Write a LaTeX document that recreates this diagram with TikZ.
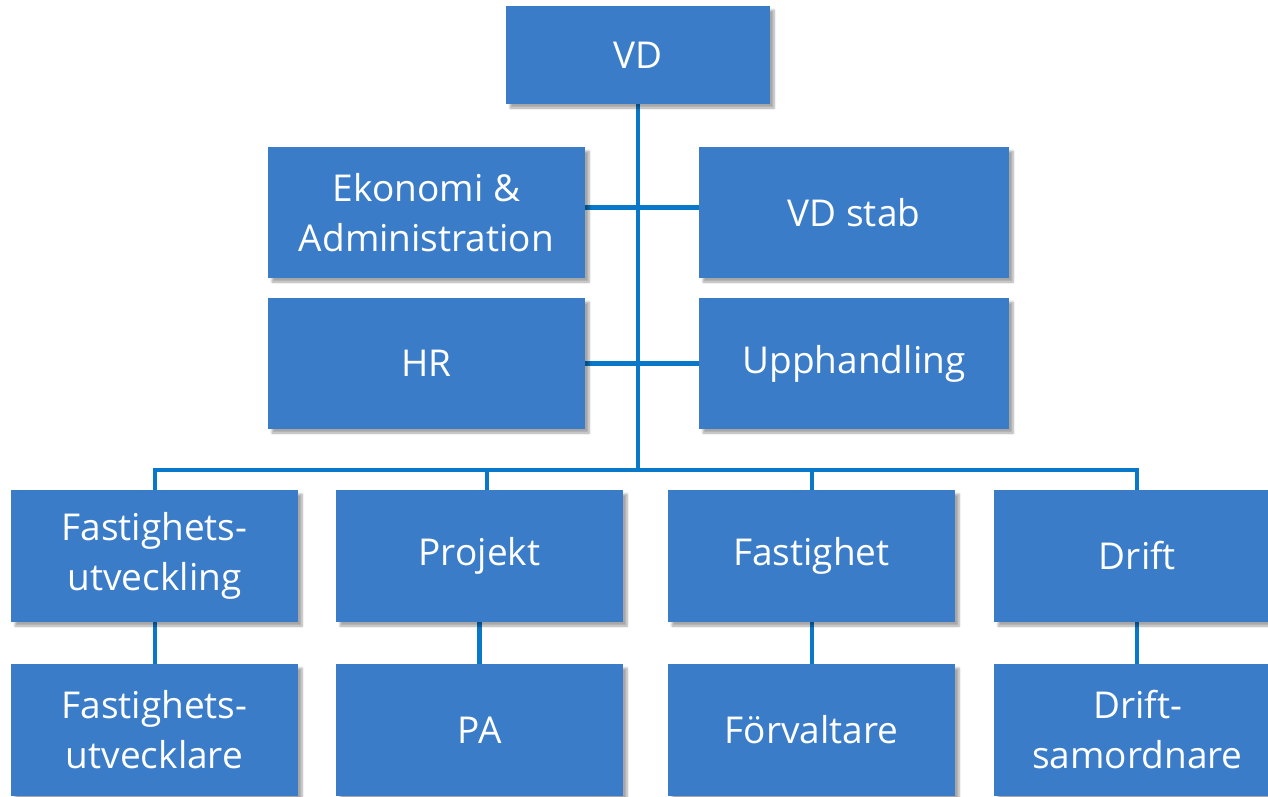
\documentclass[tikz,border=0pt]{standalone}
\usepackage{fontspec}
\setmainfont{Open Sans}
\usetikzlibrary{shadows.blur,backgrounds}
\definecolor{boxblue}{HTML}{3B7CC9}
\definecolor{lineblue}{HTML}{0A78C8}
\tikzset{
  box/.style={fill=boxblue, text=white, align=center, inner sep=0pt,
    font=\fontsize{37}{50}\selectfont,
    blur shadow={shadow xshift=4pt, shadow yshift=-4pt, shadow blur steps=6, shadow opacity=35}},
  conn/.style={draw=lineblue, line width=4.5pt}
}
\begin{document}
\begin{tikzpicture}[x=1pt,y=-1pt]
\useasboundingbox[clip] (0,0) rectangle (1268,796);
\node[box, minimum width=264pt, minimum height=98pt] (vd) at (638,55) {VD};
\node[box, minimum width=317pt, minimum height=131pt] (eko) at (426.5,212.5) {Ekonomi \&\\Administration};
\node[box, minimum width=310pt, minimum height=131pt] (stab) at (854,212.5) {VD stab};
\node[box, minimum width=317pt, minimum height=131pt] (hr) at (426.5,363.5) {HR};
\node[box, minimum width=310pt, minimum height=131pt] (upp) at (854,363.5) {Upphandling};
\node[box, minimum width=287pt, minimum height=132pt] (fu) at (154.5,556) {Fastighets-\\utveckling};
\node[box, minimum width=287pt, minimum height=132pt] (proj) at (479.5,556) {Projekt};
\node[box, minimum width=287pt, minimum height=132pt] (fast) at (811.5,556) {Fastighet};
\node[box, minimum width=287pt, minimum height=132pt] (drift) at (1137.5,556) {Drift};
\node[box, minimum width=287pt, minimum height=132pt] (fur) at (154.5,730) {Fastighets-\\utvecklare};
\node[box, minimum width=287pt, minimum height=132pt] (pa) at (479.5,730) {PA};
\node[box, minimum width=287pt, minimum height=132pt] (forv) at (811.5,730) {Förvaltare};
\node[box, minimum width=287pt, minimum height=132pt] (ds) at (1137.5,730) {Drift-\\samordnare};
\coordinate (busC) at (638,470);
\coordinate (busL) at (155,470);
\coordinate (busR) at (1137,470);
\coordinate (busP) at (487,470);
\coordinate (busF) at (812,470);
\begin{scope}[on background layer]
\draw[conn] (vd.south) -- (busC);
\draw[conn] ([yshift=5pt]eko.east) -- ([yshift=5pt]stab.west);
\draw[conn] (hr.east) -- (upp.west);
\draw[conn] (fu.north -| busL) -- (busL) -- (busR) -- (drift.north -| busR);
\draw[conn] (busP) -- (proj.north -| busP);
\draw[conn] (busF) -- (fast.north -| busF);
\draw[conn] (fu.south -| busL) -- (fur.north -| busL);
\draw[conn] (proj.south) -- (pa.north);
\draw[conn] (fast.south -| busF) -- (forv.north -| busF);
\draw[conn] (drift.south -| busR) -- (ds.north -| busR);
\end{scope}
\end{tikzpicture}
\end{document}
